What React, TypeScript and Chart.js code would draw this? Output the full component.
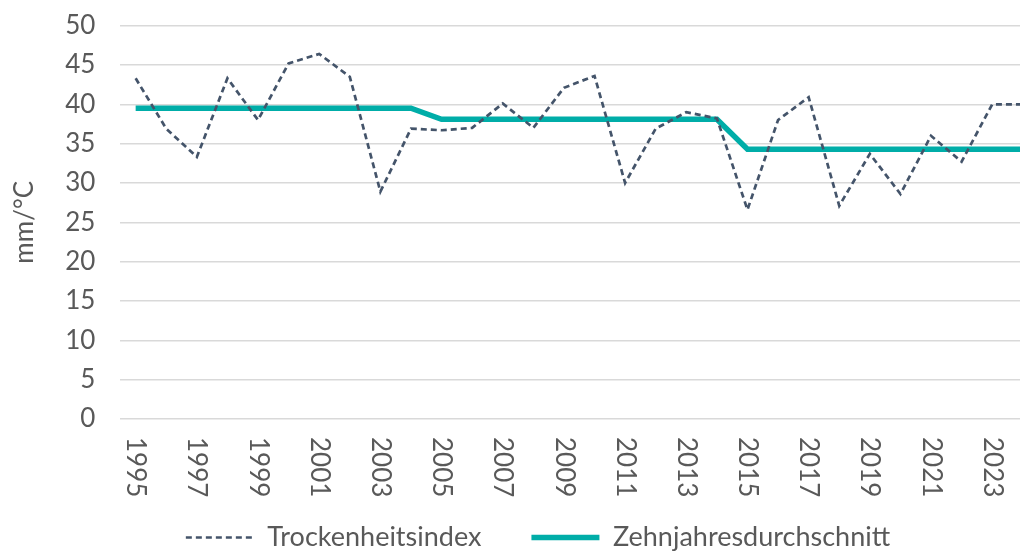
import React, { useEffect, useRef } from "react";
import { Chart, registerables } from "chart.js";

Chart.register(...registerables);

const years = [
  "1995", "1996", "1997", "1998", "1999", "2000", "2001", "2002", "2003", "2004",
  "2005", "2006", "2007", "2008", "2009", "2010", "2011", "2012", "2013", "2014",
  "2015", "2016", "2017", "2018", "2019", "2020", "2021", "2022", "2023", "2024",
];

const trockenheitsindex = [
  43.3, 36.9, 33.3, 43.3, 38.0, 45.2, 46.4, 43.5, 28.9, 36.9,
  36.7, 37.0, 40.1, 37.0, 42.1, 43.6, 30.0, 36.9, 39.0, 38.2,
  26.6, 38.0, 40.9, 27.1, 33.7, 28.6, 36.0, 32.7, 40.0, 40.0,
];

const zehnjahresdurchschnitt = [
  39.5, 39.5, 39.5, 39.5, 39.5, 39.5, 39.5, 39.5, 39.5, 39.5,
  38.1, 38.1, 38.1, 38.1, 38.1, 38.1, 38.1, 38.1, 38.1, 38.1,
  34.3, 34.3, 34.3, 34.3, 34.3, 34.3, 34.3, 34.3, 34.3, 34.3,
];

const seriesNames = ["Trockenheitsindex", "Zehnjahresdurchschnitt"];
const yAxisTitle = "mm/°C";

const FONT = "Lato";
const FONT_SIZE = 26;
const LEGEND_FONT_SIZE = 27;
const TEXT_COLOR = "#595959";

const rotatedXLabels = {
  id: "rotatedXLabels",
  afterDraw(chart: any) {
    const scale = chart.scales.x;
    const ctx = chart.ctx;
    ctx.save();
    ctx.font = `${FONT_SIZE}px ${FONT}`;
    ctx.fillStyle = TEXT_COLOR;
    ctx.textAlign = "left";
    ctx.textBaseline = "middle";
    years.forEach((label, i) => {
      if (i % 2 !== 0) return;
      const x = scale.getPixelForValue(i);
      const y = scale.top + 18;
      ctx.save();
      ctx.translate(x, y);
      ctx.rotate(Math.PI / 2);
      ctx.fillText(label, 0, 0);
      ctx.restore();
    });
    ctx.restore();
  },
};

export default function App() {
  const canvasRef = useRef<HTMLCanvasElement | null>(null);

  useEffect(() => {
    if (!canvasRef.current) return;
    const chart = new Chart(canvasRef.current, {
      type: "line",
      data: {
        labels: years,
        datasets: [
          {
            label: seriesNames[0],
            data: trockenheitsindex,
            borderColor: "#44546A",
            backgroundColor: "#44546A",
            borderWidth: 2.7,
            borderDash: [6, 4],
            pointRadius: 0,
            tension: 0,
          },
          {
            label: seriesNames[1],
            data: zehnjahresdurchschnitt,
            borderColor: "#00ADA8",
            backgroundColor: "#00ADA8",
            borderWidth: 5.5,
            pointRadius: 0,
            tension: 0,
          },
        ],
      },
      options: {
        animation: false,
        responsive: true,
        maintainAspectRatio: false,
        layout: { padding: { left: 4, right: 0, top: 0, bottom: 0 } },
        plugins: {
          tooltip: { enabled: false },
          legend: {
            position: "bottom",
            labels: {
              usePointStyle: true,
              pointStyle: "line",
              pointStyleWidth: 68,
              boxHeight: 26,
              padding: 50,
              color: TEXT_COLOR,
              font: { family: FONT, size: LEGEND_FONT_SIZE },
              generateLabels: (c: any) =>
                c.data.datasets.map((ds: any, i: number) => ({
                  text: ds.label,
                  fillStyle: ds.borderColor,
                  strokeStyle: ds.borderColor,
                  lineWidth: ds.borderWidth,
                  lineDash: ds.borderDash || [],
                  pointStyle: "line",
                  fontColor: TEXT_COLOR,
                  hidden: false,
                  datasetIndex: i,
                })),
            },
          },
        },
        scales: {
          x: {
            offset: true,
            grid: { display: false, drawTicks: false },
            border: { display: false },
            ticks: {
              autoSkip: false,
              minRotation: 90,
              maxRotation: 90,
              padding: 18,
              color: "rgba(0,0,0,0)",
              font: { family: FONT, size: FONT_SIZE },
              callback: (_v: any, i: number) => (i % 2 === 0 ? years[i] : ""),
            },
            afterFit: (scale: any) => {
              scale.height = 55;
            },
          },
          y: {
            min: 0,
            max: 50,
            grid: { color: "#D9D9D9", lineWidth: 1.5, drawTicks: false },
            border: { display: false },
            ticks: {
              stepSize: 5,
              autoSkip: false,
              padding: 25,
              color: TEXT_COLOR,
              font: { family: FONT, size: FONT_SIZE },
            },
            title: {
              display: true,
              text: yAxisTitle,
              color: TEXT_COLOR,
              font: { family: FONT, size: FONT_SIZE },
              padding: { top: 5, bottom: 0 },
            },
          },
        },
      },
      plugins: [rotatedXLabels],
    });
    return () => chart.destroy();
  }, []);

  return (
    <div
      style={{
        position: "fixed",
        left: 0,
        top: 0,
        width: 1020,
        height: 552,
        overflow: "hidden",
        background: "#fff",
      }}
    >
      <div style={{ position: "absolute", left: 0, top: -15, width: 1072, height: 576 }}>
        <canvas ref={canvasRef} />
      </div>
    </div>
  );
}
